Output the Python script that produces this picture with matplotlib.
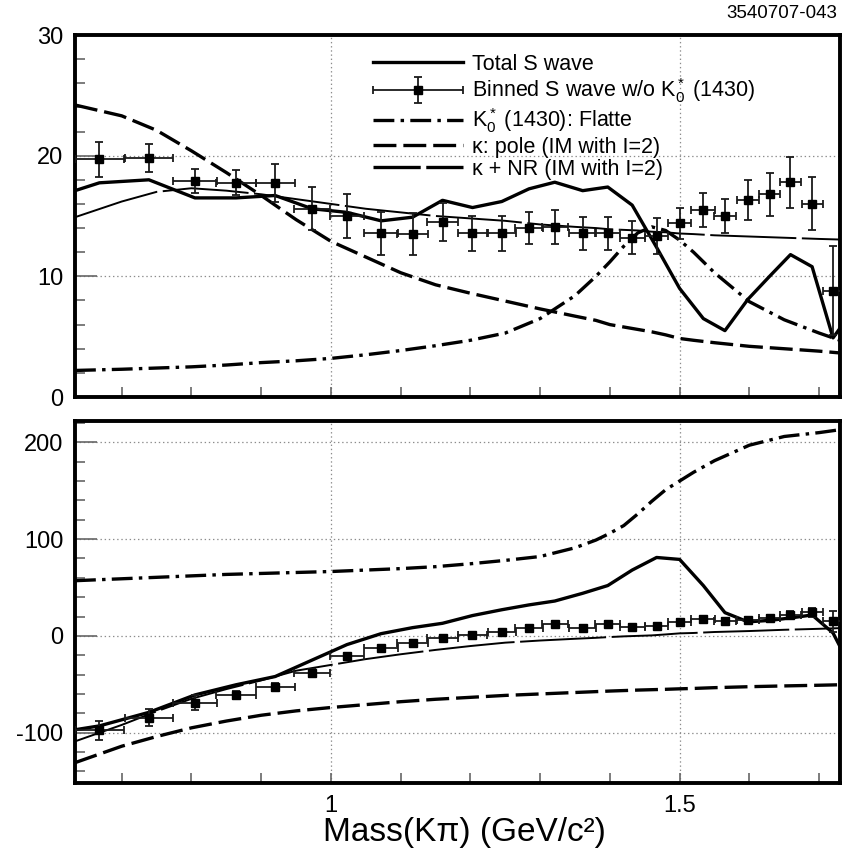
import matplotlib
matplotlib.use("Agg")
import matplotlib.pyplot as plt
from matplotlib.lines import Line2D
from matplotlib.ticker import MultipleLocator, FixedLocator
from matplotlib.legend_handler import HandlerErrorbar
from matplotlib.container import ErrorbarContainer

plt.rcParams['font.family'] = ['Liberation Sans', 'DejaVu Sans']
plt.rcParams['mathtext.fontset'] = 'custom'
plt.rcParams['mathtext.rm'] = 'Liberation Sans'
plt.rcParams['mathtext.it'] = 'Liberation Sans:italic'
plt.rcParams['lines.scale_dashes'] = False
plt.rcParams['axes.unicode_minus'] = False

# binned S wave (bin centres and half widths, GeV/c^2)
mass = [0.668, 0.739, 0.805, 0.864, 0.920, 0.973, 1.023, 1.072, 1.117, 1.160,
        1.203, 1.245, 1.284, 1.321, 1.361, 1.397, 1.432, 1.467, 1.500, 1.534,
        1.565, 1.598, 1.629, 1.659, 1.690, 1.720]
mass_err = [0.035, 0.035, 0.031, 0.029, 0.028, 0.026, 0.025, 0.024, 0.022, 0.022,
            0.021, 0.020, 0.020, 0.019, 0.019, 0.018, 0.018, 0.017, 0.017, 0.017,
            0.016, 0.016, 0.015, 0.015, 0.015, 0.015]
amp = [19.7, 19.8, 17.9, 17.75, 17.75, 15.6, 15.0, 13.55, 13.5, 14.5,
       13.55, 13.55, 14.0, 14.1, 13.55, 13.55, 13.2, 13.35, 14.4, 15.5,
       15.0, 16.3, 16.8, 17.8, 16.0, 8.8]
amp_err = [1.45, 1.15, 1.0, 1.05, 1.6, 1.8, 1.8, 1.75, 1.75, 1.6,
           1.45, 1.45, 1.35, 1.4, 1.35, 1.35, 1.35, 1.5, 1.3, 1.4,
           1.45, 1.65, 1.8, 2.1, 2.2, 3.7]
phase = [-97.6, -84.5, -69.0, -61.0, -52.5, -38.5, -21.3, -12.7, -7.6, -2.4,
         1.0, 4.0, 7.9, 12.0, 8.6, 12.5, 9.6, 9.8, 14.0, 17.1,
         15.0, 16.0, 18.0, 22.0, 24.3, 15.0]
phase_err = [9.5, 8.5, 8.0, 4.5, 4.0, 4.0, 4.0, 3.0, 3.0, 3.0,
             3.0, 3.0, 3.0, 3.0, 3.0, 3.0, 3.0, 3.0, 3.0, 3.0,
             3.0, 3.0, 3.5, 4.0, 5.0, 11.0]

# total S wave, evaluated at threshold, the bin centres and the upper limit
mass_total = [0.633] + mass + [1.730]
amp_total = [17.1, 17.75, 18.0, 16.5, 16.5, 16.7, 15.6, 15.3, 14.6, 14.9, 16.3,
             15.7, 16.2, 17.25, 17.8, 17.1, 17.4, 15.9, 12.4, 9.0, 6.5,
             5.5, 8.1, 10.0, 11.8, 10.8, 4.9, 5.7]
phase_total = [-97.0, -93.0, -79.0, -61.0, -50.5, -42.0, -25.0, -9.0, 2.3, 8.5, 13.0,
               21.0, 27.0, 32.0, 36.0, 44.0, 52.0, 68.0, 81.0, 79.0, 52.0,
               24.0, 14.5, 16.0, 18.5, 21.6, 3.0, -11.0]

# model components
mass_curve = [0.633, 0.70, 0.75, 0.80, 0.85, 0.90, 0.95, 1.00, 1.05, 1.10,
              1.15, 1.20, 1.25, 1.30, 1.35, 1.38, 1.40, 1.42, 1.44, 1.46,
              1.48, 1.50, 1.52, 1.55, 1.60, 1.65, 1.70, 1.73]
amp_flatte = [2.2, 2.3, 2.4, 2.5, 2.65, 2.85, 3.0, 3.2, 3.5, 3.85,
              4.25, 4.7, 5.3, 6.5, 8.4, 10.0, 11.2, 12.5, 13.6, 14.1,
              13.8, 13.0, 12.0, 10.3, 7.9, 6.4, 5.3, 4.7]
amp_pole = [24.2, 23.3, 22.1, 20.4, 18.6, 16.7, 14.7, 12.9, 11.6, 10.3,
            9.3, 8.6, 7.95, 7.3, 6.7, 6.35, 6.0, 5.8, 5.6, 5.4,
            5.15, 4.85, 4.7, 4.5, 4.2, 4.0, 3.8, 3.65]
amp_nr = [14.9, 16.2, 17.0, 17.3, 17.1, 16.8, 16.4, 16.0, 15.6, 15.3,
          15.0, 14.8, 14.6, 14.3, 14.1, 14.0, 13.9, 13.85, 13.8, 13.7,
          13.65, 13.55, 13.5, 13.4, 13.3, 13.2, 13.1, 13.05]
phase_flatte = [57.0, 59.0, 60.5, 62.0, 63.5, 64.5, 65.5, 66.5, 68.0, 69.5,
                71.5, 74.5, 78.0, 82.0, 91.0, 99.0, 106.0, 114.0, 126.0, 139.0,
                151.0, 160.0, 169.0, 181.0, 197.0, 206.0, 210.0, 213.0]
phase_pole = [-131.0, -114.0, -104.0, -95.0, -88.0, -82.0, -77.5, -74.0, -71.0, -68.0,
              -65.5, -63.5, -61.5, -60.0, -58.5, -57.6, -57.0, -56.5, -56.0, -55.6,
              -55.2, -54.7, -54.3, -53.5, -52.5, -51.7, -51.0, -50.5]
phase_nr = [-109.0, -92.0, -78.0, -65.0, -55.0, -46.0, -36.0, -30.0, -24.0, -19.0,
            -14.5, -10.5, -7.0, -4.8, -3.0, -2.0, -1.2, -0.5, 0.0, 0.5,
            1.5, 2.6, 3.0, 4.0, 5.0, 6.3, 7.3, 8.0]

fig = plt.figure(figsize=(8.51, 8.57), dpi=100)
ax1 = fig.add_axes([75 / 851, 1 - 397 / 857, 765 / 851, 362 / 857])
ax2 = fig.add_axes([75 / 851, 1 - 783 / 857, 765 / 851, 362 / 857])

total_kw = dict(color='black', lw=2.4)
flatte_kw = dict(color='black', lw=2.4, dashes=(15, 4.5, 2.5, 4.5))
pole_kw = dict(color='black', lw=2.4, dashes=(16.5, 5))
nr_kw = dict(color='black', lw=1.4, dashes=(62, 4))
data_kw = dict(fmt='s', color='black', ecolor='0.1', ms=6, elinewidth=1.3,
               capsize=3, capthick=1.3, zorder=5)

for ax, y_data, y_err, y_total, y_flatte, y_pole, y_nr in [
        (ax1, amp, amp_err, amp_total, amp_flatte, amp_pole, amp_nr),
        (ax2, phase, phase_err, phase_total, phase_flatte, phase_pole, phase_nr)]:
    h_total, = ax.plot(mass_total, y_total, **total_kw)
    h_data = ax.errorbar(mass, y_data, xerr=mass_err, yerr=y_err, **data_kw)
    h_flatte, = ax.plot(mass_curve, y_flatte, **flatte_kw)
    h_pole, = ax.plot(mass_curve, y_pole, **pole_kw)
    ax.plot(mass_curve, y_nr, **nr_kw)

    ax.set_xlim(0.633, 1.730)
    ax.xaxis.set_major_locator(FixedLocator([1.0, 1.5]))
    ax.xaxis.set_minor_locator(MultipleLocator(0.1))
    ax.grid(True, which='major', color='0.55', lw=0.9, ls=(0, (1, 2)))
    ax.tick_params(which='both', direction='in', color='0.4', width=1.2,
                   labelsize=17, pad=8.5)
    ax.tick_params(axis='y', which='major', length=16)
    ax.tick_params(axis='y', which='minor', length=7)
    ax.tick_params(axis='x', which='both', length=7)
    for s in ax.spines.values():
        s.set_linewidth(2.8)

    if ax is ax1:
        # the legend key for kappa + NR is drawn heavier than the curve itself
        h_nr = Line2D([], [], color='black', lw=2.4, dashes=(34, 4))
        legend_handles = [h_total, h_data, h_flatte, h_pole, h_nr]

ax1.set_ylim(0, 30)
ax1.yaxis.set_major_locator(MultipleLocator(10))
ax1.yaxis.set_minor_locator(MultipleLocator(2))
ax1.tick_params(axis='x', labelbottom=False)

ax2.set_ylim(-152, 222)
ax2.yaxis.set_major_locator(MultipleLocator(100))
ax2.yaxis.set_minor_locator(MultipleLocator(20))
ax2.xaxis.set_major_formatter(plt.FuncFormatter(lambda v, p: f"{v:g}"))

ax2.set_xlabel("Mass(K\u03c0) (GeV/c\u00b2)", fontsize=24)
ax2.xaxis.label.set_va('center')
ax2.xaxis.set_label_coords((464 - 75) / 765, -(833 - 783) / 362)

labels = ["Total S wave",
          r"Binned S wave w/o K$_0^*$ (1430)",
          r"K$_0^*$ (1430): Flatte",
          "\u03ba: pole (IM with I=2)",
          "\u03ba + NR (IM with I=2)"]
ax1.legend(legend_handles, labels, loc='upper left',
           bbox_to_anchor=((373 - 75) / 765, 1 - (54 - 35) / 362),
           frameon=False, fontsize=15.5, handlelength=4.2, handletextpad=0.42,
           labelspacing=0.06, borderpad=0, borderaxespad=0,
           handler_map={ErrorbarContainer: HandlerErrorbar(xerr_size=2.1,
                                                           yerr_size=0.6)})

fig.text(837 / 851, 1 - 14 / 857, "3540707-043", ha='right', va='center',
         fontsize=13.5)

fig.savefig("out.png", dpi=100)
